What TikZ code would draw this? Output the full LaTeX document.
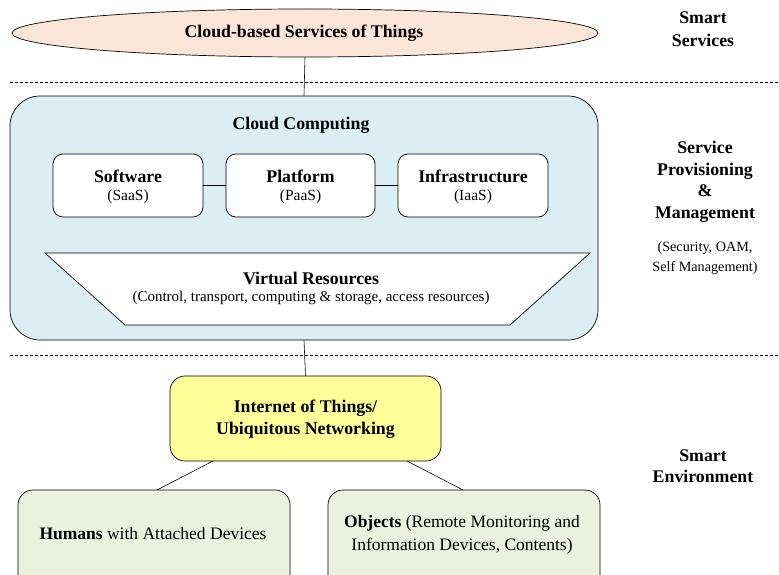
\documentclass[tikz,border=0pt]{standalone}
\usepackage{fontspec}
\setmainfont{Liberation Serif}
\usetikzlibrary{shapes.geometric}
\definecolor{peach}{HTML}{FBE5D6}
\definecolor{cloudblue}{HTML}{DAEEF3}
\definecolor{iotyellow}{HTML}{FFFF99}
\definecolor{envgreen}{HTML}{EBF1DE}
\tikzset{
  lbl/.style={font=\bfseries\fontsize{17.8}{22}\selectfont, align=center, inner sep=0pt},
  sub/.style={font=\fontsize{15.5}{20}\selectfont, align=center, inner sep=0pt},
  small/.style={font=\fontsize{14.2}{20}\selectfont, align=center, inner sep=0pt},
  btm/.style={font=\fontsize{17.5}{23}\selectfont, align=center, inner sep=0pt},
  servbox/.style={draw, fill=white, rounded corners=10pt},
  sep/.style={draw, dash pattern=on 3pt off 2pt, line width=0.6pt},
  conn/.style={draw, line width=0.6pt},
}
\begin{document}
\begin{tikzpicture}[x=1pt,y=-1pt, line width=0.7pt]
\useasboundingbox (0,0) rectangle (779,575);
% separators
\draw[sep] (10,82) -- (779,82);
\draw[sep] (10,355) -- (779,355);
% ellipse
\node[draw, ellipse, fill=peach, minimum width=586pt, minimum height=48pt, inner sep=0pt] (cloudsvc) at (305,33) {};
\node[lbl] (cloudsvctxt) at (304,33) {Cloud-based Services of Things};
% cloud computing box
\node[draw, fill=cloudblue, rounded corners=30pt, minimum width=588pt, minimum height=244pt, inner sep=0pt] (cc) at (304,218) {};
\node[lbl] (cctitle) at (301,125) {Cloud Computing};
\draw[conn] (cloudsvc.south) -- (cc.north);
% service boxes
\node[servbox, minimum width=150pt, minimum height=63pt] (saas) at (128,185.5) {};
\node[servbox, minimum width=149pt, minimum height=63pt] (paas) at (300.5,185.5) {};
\node[servbox, minimum width=150pt, minimum height=63pt] (iaas) at (473,185.5) {};
\node[lbl] (saast) at (128,176) {Software};
\node[sub] (saass) at (128,197) {(SaaS)};
\node[lbl] (paast) at (300.5,176) {Platform};
\node[sub] (paass) at (300.5,197) {(PaaS)};
\node[lbl] (iaast) at (473,176) {Infrastructure};
\node[sub] (iaass) at (473,197) {(IaaS)};
\draw[conn] (saas.east) -- (paas.west);
\draw[conn] (paas.east) -- (iaas.west);
% trapezoid
\coordinate (t1) at (45,253);
\coordinate (t2) at (590,253);
\coordinate (t3) at (510,325);
\coordinate (t4) at (125,325);
\draw[fill=white] (t1) -- (t2) -- (t3) -- (t4) -- cycle;
\node[lbl] (vr) at (311,278) {Virtual Resources};
\node[sub, font=\fontsize{15}{18}\selectfont] (vrsub) at (311,298) {(Control, transport, computing \& storage, access resources)};
% IoT
\node[draw, fill=iotyellow, rounded corners=15pt, minimum width=271pt, minimum height=85pt, inner sep=0pt] (iot) at (305.5,418.5) {};
\node[lbl] (iott) at (305.5,419) {Internet of Things/\\Ubiquitous Networking};
\draw[conn] (cc.south) -- (iot.north);
% bottom boxes
\node[draw, fill=envgreen, rounded corners=15pt, minimum width=272pt, minimum height=100pt, inner sep=0pt] (hum) at (154,540) {};
\node[draw, fill=envgreen, rounded corners=15pt, minimum width=272pt, minimum height=100pt, inner sep=0pt] (obj) at (464,540) {};
\node[btm] (humt) at (153,534) {\textbf{Humans} with Attached Devices};
\node[btm] (objt) at (462,535) {\textbf{Objects} (Remote Monitoring and\\Information Devices, Contents)};
\coordinate (iotl) at (213,461);
\coordinate (iotr) at (407,461);
\coordinate (huml) at (157,490);
\coordinate (objr) at (463,490);
\draw[conn] (iotl) -- (huml);
\draw[conn] (iotr) -- (objr);
% right labels
\node[lbl, font=\bfseries\fontsize{17.8}{23}\selectfont] (smserv) at (703,29) {Smart\\Services};
\node[lbl, font=\bfseries\fontsize{17.8}{21.5}\selectfont] (spm) at (705,182) {Service\\Provisioning\\\&\\Management};
\node[small] (sec) at (705,258) {(Security, OAM,\\Self Management)};
\node[lbl, font=\bfseries\fontsize{17.8}{21}\selectfont] (smenv) at (703,466) {Smart\\Environment};
\end{tikzpicture}
\end{document}
